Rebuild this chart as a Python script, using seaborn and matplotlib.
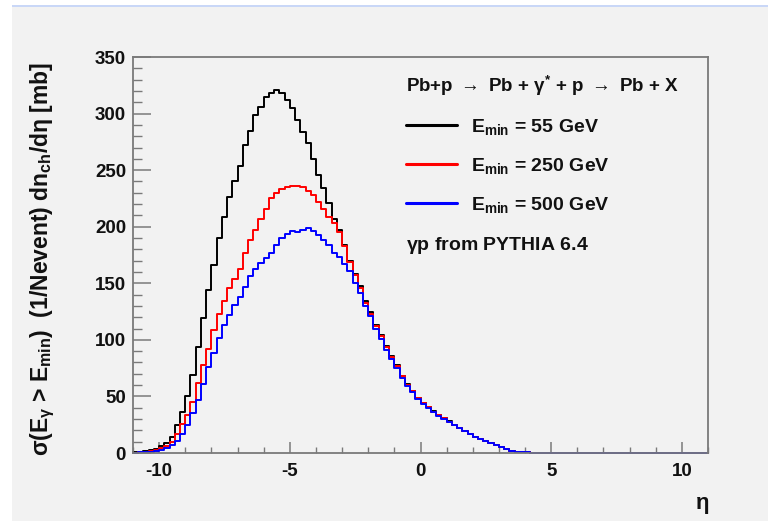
import numpy as np
import pandas as pd
import matplotlib
matplotlib.use("Agg")
import matplotlib.pyplot as plt
import seaborn as sns
from matplotlib.ticker import MultipleLocator, FixedLocator
from matplotlib.patches import Rectangle
from matplotlib.lines import Line2D

# ---------------- data (bin width 0.2 in eta, from -11 to 11) ----------------
bin_edges = [round(v, 2) for v in np.linspace(-11.0, 11.0, 111)]
eta_centers = [round((a + b) / 2, 2) for a, b in zip(bin_edges[:-1], bin_edges[1:])]

emin_55 = [0.5, 1, 1.5, 2.5, 3.5, 6, 9, 14, 25, 36.5,
           50, 69, 94, 119, 144, 166, 190, 209, 226, 240,
           254, 272, 285, 299, 306, 315, 318.5, 321, 318.5, 312,
           305, 294, 284, 274, 260, 246, 234, 221, 207, 197,
           184, 170, 158, 148, 134, 125, 113, 104, 95, 86,
           78, 68, 61, 55, 49, 44, 41, 37, 34, 31,
           28, 25, 22, 19.5, 17, 14.5, 12.5, 10.5, 8.5, 7,
           5, 3.5, 2.2, 1.3, 0.8, 0.5, 0.3, 0.1, 0, 0,
           0, 0, 0, 0, 0, 0, 0, 0, 0, 0,
           0, 0, 0, 0, 0, 0, 0, 0, 0, 0,
           0, 0, 0, 0, 0, 0, 0, 0, 0, 0]

emin_250 = [0.3, 0.6, 1, 1.8, 2.7, 4, 6, 10, 17, 26,
            34, 45, 62, 78, 92, 109, 123, 134, 146, 154,
            163, 176.5, 188, 197, 207, 216, 225, 230, 233, 235,
            236, 236, 235, 232, 228, 222, 216, 209, 203, 195,
            183, 169, 157, 146, 133, 123, 112, 103, 94, 85,
            77, 68, 60.5, 54.5, 48.5, 44, 40.5, 36.5, 33.5, 30.5,
            27.5, 25, 22, 19.5, 17, 14.5, 12.5, 10.5, 8.5, 7,
            5, 3.5, 2.2, 1.3, 0.8, 0.5, 0.3, 0.1, 0, 0,
            0, 0, 0, 0, 0, 0, 0, 0, 0, 0,
            0, 0, 0, 0, 0, 0, 0, 0, 0, 0,
            0, 0, 0, 0, 0, 0, 0, 0, 0, 0]

emin_500 = [0.2, 0.5, 0.8, 1.3, 2, 3, 4.5, 7, 11, 17,
            25, 35, 47, 61, 76, 88, 102, 113, 122, 131,
            138, 147, 156, 163, 168, 172, 177, 184, 190, 194,
            196, 195, 197, 198.5, 196, 193, 188, 184, 177, 173,
            167, 161, 150, 141, 130, 121, 110, 101, 91, 83,
            75, 66.5, 59.5, 53.5, 48, 43.5, 40, 36, 33, 30,
            27.5, 25, 22, 19.5, 17, 14.5, 12.5, 10.5, 8.5, 7,
            5, 3.5, 2.2, 1.3, 0.8, 0.5, 0.3, 0.1, 0, 0,
            0, 0, 0, 0, 0, 0, 0, 0, 0, 0,
            0, 0, 0, 0, 0, 0, 0, 0, 0, 0,
            0, 0, 0, 0, 0, 0, 0, 0, 0, 0]

series = [emin_55, emin_250, emin_500]
series_labels = [r"$E_{min}$ = 55 GeV", r"$E_{min}$ = 250 GeV", r"$E_{min}$ = 500 GeV"]
series_colors = ["#000000", "#ff0000", "#0000ff"]

x_major_ticks = [-10, -5, 0, 5, 10]
y_major_ticks = [0, 50, 100, 150, 200, 250, 300, 350]

title_text = r"Pb+p $\rightarrow$ Pb + $\gamma^{*}$ + p $\rightarrow$ Pb + X"
footer_text = r"$\gamma$p from PYTHIA 6.4"
ylabel_text = r"$\sigma(E_{\gamma}$ > $E_{min})$  (1/Nevent) dn$_{ch}$/d$\eta$ [mb]"
xlabel_text = r"$\eta$"

# ---------------- style ----------------
sns.set_theme(style="ticks")
plt.rcParams["font.family"] = ["Liberation Sans", "DejaVu Sans"]
plt.rcParams["font.weight"] = "bold"
plt.rcParams["axes.unicode_minus"] = False
plt.rcParams["mathtext.fontset"] = "custom"
plt.rcParams["mathtext.rm"] = "Liberation Sans:bold"
plt.rcParams["mathtext.it"] = "Liberation Sans:bold"
plt.rcParams["mathtext.bf"] = "Liberation Sans:bold"
plt.rcParams["mathtext.sf"] = "Liberation Sans:bold"

BG = "#f2f2f2"
INK = "#111111"
W, H = 768, 521
fig = plt.figure(figsize=(W / 100, H / 100), dpi=100, facecolor=BG)

# page decoration (white margin and thin blue line at the top)
fig.patches.append(Rectangle((0, 0), 12 / W, 1, transform=fig.transFigure,
                             facecolor="white", edgecolor="none", zorder=-5))
fig.patches.append(Rectangle((0, 1 - 5 / H), 1, 5 / H, transform=fig.transFigure,
                             facecolor="white", edgecolor="none", zorder=-5))
fig.patches.append(Rectangle((12 / W, 1 - 6.5 / H), 1, 1.8 / H, transform=fig.transFigure,
                             facecolor="#c9d7f7", edgecolor="none", zorder=-4))

ax = fig.add_axes([133 / W, 1 - 453 / H, (708 - 133) / W, (453 - 57) / H])
ax.set_facecolor(BG)

for vals, col in zip(series, series_colors):
    df = pd.DataFrame({"eta": eta_centers, "w": vals})
    sns.histplot(data=df, x="eta", weights="w", bins=bin_edges, element="step",
                 fill=False, color=col, linewidth=1.4, ax=ax)

for ln in ax.lines:
    ln.set_clip_on(False)
for p in ax.patches:
    p.set_clip_on(False)

ax.set_xlim(-11, 11)
ax.set_ylim(0, 350)
ax.set_xlabel("")
ax.set_ylabel("")

ax.xaxis.set_major_locator(FixedLocator(x_major_ticks))
ax.xaxis.set_minor_locator(MultipleLocator(1))
ax.yaxis.set_major_locator(FixedLocator(y_major_ticks))
ax.yaxis.set_minor_locator(MultipleLocator(10))

frame_col = "#7a7a7a"
for sp in ax.spines.values():
    sp.set_color(frame_col)
    sp.set_linewidth(1.3)
    sp.set_visible(True)

ax.tick_params(axis="x", which="major", direction="in", length=8, width=1.1,
               color=frame_col, labelsize=13.5, pad=7, top=False)
ax.tick_params(axis="x", which="minor", direction="in", length=4, width=1.0,
               color=frame_col, top=False)
ax.tick_params(axis="y", which="major", direction="in", length=13, width=1.1,
               color=frame_col, labelsize=13.5, pad=5, right=False)
ax.tick_params(axis="y", which="minor", direction="in", length=6.5, width=1.0,
               color=frame_col, right=False)
for lab in ax.get_xticklabels() + ax.get_yticklabels():
    lab.set_fontweight("bold")
    lab.set_color(INK)

# legend
handles = [Line2D([], [], color=c, linewidth=2.2) for c in series_colors]
leg = ax.legend(handles, series_labels, loc="upper left", frameon=False,
                bbox_to_anchor=(406 / W, 1 - 117 / H), bbox_transform=fig.transFigure,
                borderaxespad=0, borderpad=0, handlelength=2.6,
                handletextpad=0.72, labelspacing=0.98,
                prop={"weight": "bold", "size": 14})
for t in leg.get_texts():
    t.set_color(INK)

fig.text(406 / W, 1 - 86 / H, title_text, ha="left", va="center",
         fontsize=13.5, fontweight="bold", color=INK)
fig.text(406 / W, 1 - 245 / H, footer_text, ha="left", va="center",
         fontsize=14, fontweight="bold", color=INK)
fig.text(43 / W, 1 - 259 / H, ylabel_text, rotation=90, ha="center", va="center",
         fontsize=16.5, fontweight="bold", color=INK)
fig.text(702 / W, 1 - 506 / H, xlabel_text, ha="center", va="center",
         fontsize=16, fontweight="bold", color=INK)

fig.savefig("out.png", dpi=100, facecolor=BG)
